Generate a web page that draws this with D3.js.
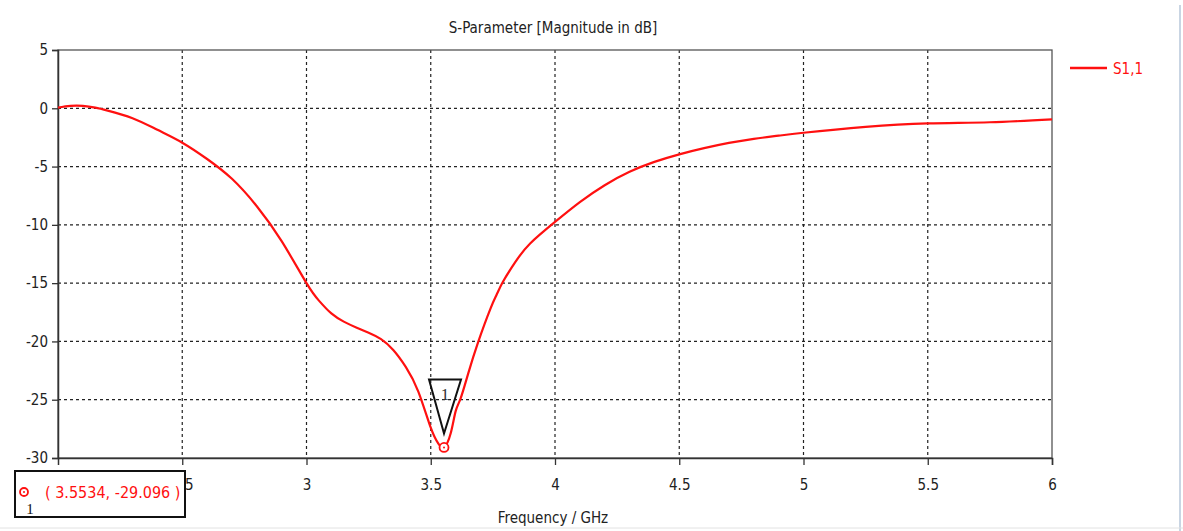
<!DOCTYPE html>
<html><head><meta charset="utf-8">
<script src="https://cdn.jsdelivr.net/npm/d3@7"></script>
<style>
html,body{margin:0;padding:0;background:#fff;}
text{font-family:"DejaVu Sans Condensed","DejaVu Sans",sans-serif;}
</style></head>
<body><svg id="c" width="1183" height="531"></svg>
<script>
const freq = [2.0,2.05,2.1,2.15,2.2,2.3,2.4,2.5,2.6,2.7,2.8,2.9,3.0,3.05,3.1,3.15,3.2,3.25,3.3,3.35,3.4,3.45,3.5,3.53,3.5534,3.58,3.6,3.62,3.65,3.69,3.74,3.765,3.79,3.84,3.9,4.0,4.1,4.2,4.3,4.4,4.5,4.6,4.7,4.8,4.9,5.0,5.25,5.5,5.75,6.0];
const s11  = [0.05,0.2,0.2,0.05,-0.2,-0.85,-1.85,-2.95,-4.35,-6.05,-8.4,-11.4,-15.0,-16.5,-17.6,-18.3,-18.8,-19.25,-19.8,-20.75,-22.2,-24.3,-27.4,-28.75,-29.096,-27.9,-26.0,-24.9,-22.8,-20.1,-17.2,-16.0,-14.9,-13.2,-11.6,-9.75,-8.05,-6.6,-5.45,-4.6,-3.95,-3.42,-2.97,-2.62,-2.35,-2.1,-1.6,-1.3,-1.2,-0.95];
const xTicks = [2.5,3,3.5,4,4.5,5,5.5,6];
const yTicks = [5,0,-5,-10,-15,-20,-25,-30];
const markerFreq = 3.5534, markerVal = -29.096;
const title = "S-Parameter [Magnitude in dB]";
const xTitle = "Frequency / GHz";
const seriesName = "S1,1";

const svg = d3.select("#c");
const L=58, R=1052, T=50, B=458;
const x = d3.scaleLinear().domain([2,6]).range([L,R]);
const y = d3.scaleLinear().domain([-30,5]).range([B,T]);

// outer light borders
svg.append("line").attr("x1",1180).attr("x2",1180).attr("y1",5).attr("y2",531).attr("stroke","#c9d5e3").attr("stroke-width",2);
svg.append("line").attr("x1",0).attr("x2",1183).attr("y1",528).attr("y2",528).attr("stroke","#e2e2e2").attr("stroke-width",1);

// grid
svg.append("g").selectAll("line").data(xTicks.filter(d=>d<6)).join("line")
  .attr("x1",d=>x(d)).attr("x2",d=>x(d)).attr("y1",T).attr("y2",B)
  .attr("stroke","#222").attr("stroke-width",1.2).attr("stroke-dasharray","3,3");
svg.append("g").selectAll("line").data(yTicks.filter(d=>d>-30&&d<5)).join("line")
  .attr("x1",L).attr("x2",R).attr("y1",d=>y(d)).attr("y2",d=>y(d))
  .attr("stroke","#222").attr("stroke-width",1.2).attr("stroke-dasharray","3,3");

// frame
svg.append("rect").attr("x",L).attr("y",T).attr("width",R-L).attr("height",B-T)
  .attr("fill","none").attr("stroke","#555").attr("stroke-width",1.3);

// axes
const xa = svg.append("g").attr("transform",`translate(0,${B})`)
  .call(d3.axisBottom(x).tickValues(xTicks).tickSize(7).tickPadding(14).tickFormat(d3.format("")));
const ya = svg.append("g").attr("transform",`translate(${L},0)`)
  .call(d3.axisLeft(y).tickValues(yTicks).tickSize(6).tickPadding(4).tickFormat(d=>String(d)));
[xa,ya].forEach(a=>{
  a.select(".domain").attr("stroke","#333").attr("stroke-width",1.5);
  a.selectAll(".tick line").attr("stroke","#333").attr("stroke-width",1.3);
  a.selectAll(".tick text").attr("fill","#222").style("font-size","15px").style("font-family",'"DejaVu Sans Condensed",sans-serif');
});

// titles
svg.append("text").attr("x",553).attr("y",33).attr("text-anchor","middle")
  .style("font-size","15px").attr("fill","#222").text(title);
svg.append("text").attr("x",553).attr("y",523).attr("text-anchor","middle")
  .style("font-size","15px").attr("fill","#222").text(xTitle);

// curve
const pts = freq.map((f,i)=>[f,s11[i]]);
svg.append("path").datum(pts)
  .attr("d",d3.line().x(d=>x(d[0])).y(d=>y(d[1])).curve(d3.curveNatural))
  .attr("fill","none").attr("stroke","#ff1010").attr("stroke-width",2.2);

// legend
svg.append("line").attr("x1",1070).attr("x2",1107).attr("y1",68).attr("y2",68).attr("stroke","#ff1010").attr("stroke-width",2.5);
svg.append("text").attr("x",1113).attr("y",74).style("font-size","15px").attr("fill","#ff1010").text(seriesName);

// marker on curve
const mx = x(markerFreq), my = y(markerVal);
svg.append("circle").attr("cx",mx).attr("cy",my).attr("r",4.5).attr("fill","#fff").attr("stroke","#ff1010").attr("stroke-width",1.8);
svg.append("circle").attr("cx",mx).attr("cy",my).attr("r",1).attr("fill","#ff1010");
// triangle marker
svg.append("path").attr("d",`M${mx-15},${my-68} L${mx+17},${my-68} L${mx},${my-14} Z`)
  .attr("fill","none").attr("stroke","#111").attr("stroke-width",2).attr("stroke-linejoin","miter");
svg.append("text").attr("x",mx+1).attr("y",my-47).attr("text-anchor","middle")
  .style("font-family",'"Liberation Serif",serif').style("font-size","17px").attr("fill","#333").text("1");

// marker readout box
svg.append("rect").attr("x",15).attr("y",471).attr("width",170).attr("height",46)
  .attr("fill","#fff").attr("stroke","#111").attr("stroke-width",2);
svg.append("circle").attr("cx",24).attr("cy",492).attr("r",4).attr("fill","#fff").attr("stroke","#ff1010").attr("stroke-width",1.8);
svg.append("circle").attr("cx",24).attr("cy",492).attr("r",1).attr("fill","#ff1010");
svg.append("text").attr("x",45).attr("y",498).style("font-size","16px").attr("fill","#ff1010")
  .text(`( ${markerFreq}, ${markerVal} )`);
svg.append("text").attr("x",30).attr("y",514).attr("text-anchor","middle")
  .style("font-family",'"Liberation Serif",serif').style("font-size","15px").attr("fill","#111").text("1");
</script></body></html>
